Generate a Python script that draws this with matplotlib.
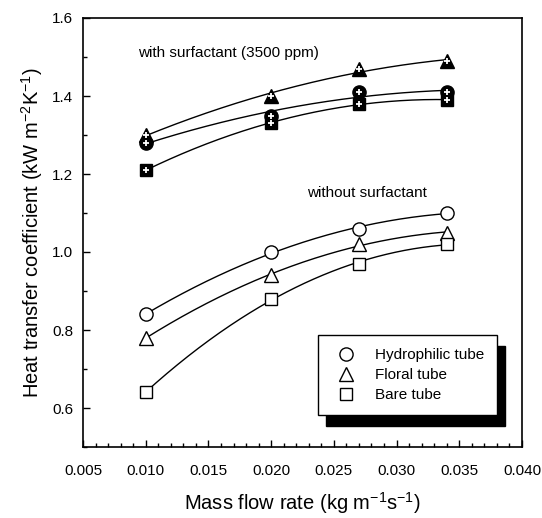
import numpy as np
import matplotlib
matplotlib.use("Agg")
import matplotlib.pyplot as plt
from matplotlib.ticker import MultipleLocator, FormatStrFormatter
from matplotlib.lines import Line2D

plt.rcParams['font.family'] = ['Liberation Sans', 'DejaVu Sans']
plt.rcParams['mathtext.fontset'] = 'custom'
plt.rcParams['mathtext.rm'] = 'Liberation Sans'

flow = [0.010, 0.020, 0.027, 0.034]
# without surfactant
hydro_wo = [0.84, 1.00, 1.06, 1.10]
floral_wo = [0.78, 0.94, 1.02, 1.05]
bare_wo = [0.64, 0.88, 0.97, 1.02]
# with surfactant (3500 ppm)
hydro_w = [1.28, 1.35, 1.41, 1.41]
floral_w = [1.30, 1.40, 1.47, 1.49]
bare_w = [1.21, 1.33, 1.38, 1.39]

fig = plt.figure(figsize=(5.42, 5.18), dpi=100)
ax = fig.add_axes([83/542, 1-447/518, (522-83)/542, (447-18)/518])

xf = np.linspace(min(flow), max(flow), 200)
ms = {'o': 9.5, '^': 9.5, 's': 8.5}

def fit(y):
    c = np.polyfit(flow, y, 2)
    return np.polyval(c, xf)

for y, m in [(hydro_wo, 'o'), (floral_wo, '^'), (bare_wo, 's')]:
    ax.plot(xf, fit(y), color='black', lw=1.0, zorder=2)
    ax.plot(flow, y, linestyle='none', marker=m, ms=ms[m], mfc='white', mec='black', mew=1.0, zorder=3)

for y, m in [(hydro_w, 'o'), (floral_w, '^'), (bare_w, 's')]:
    ax.plot(xf, fit(y), color='black', lw=1.0, zorder=2)
    ax.plot(flow, y, linestyle='none', marker=m, ms=ms[m], mfc='black', mec='black', mew=1.0, zorder=3)
    ax.plot(flow, y, linestyle='none', marker='+', ms=4.5, mec='white', mew=1.3, zorder=4)

ax.set_xlim(0.005, 0.040)
ax.set_ylim(0.5, 1.6)
ax.xaxis.set_major_locator(MultipleLocator(0.005))
ax.xaxis.set_minor_locator(MultipleLocator(0.001))
ax.yaxis.set_major_locator(MultipleLocator(0.2))
ax.yaxis.set_minor_locator(MultipleLocator(0.1))
ax.xaxis.set_major_formatter(FormatStrFormatter('%.3f'))
ax.yaxis.set_major_formatter(FormatStrFormatter('%.1f'))
ax.tick_params(which='both', direction='in', labelsize=11)
ax.tick_params(which='major', length=5, width=1)
ax.tick_params(which='minor', length=3, width=1)
ax.tick_params(axis='x', pad=12)
ax.tick_params(axis='y', pad=7)
ax.yaxis.get_major_ticks()[0].label1.set_visible(False)
for s in ax.spines.values():
    s.set_linewidth(1.2)

ax.set_xlabel(r'Mass flow rate (kg m$^{-1}$s$^{-1}$)', fontsize=14.5, labelpad=9)
ax.set_ylabel(r'Heat transfer coefficient (kW m$^{-2}$K$^{-1}$)', fontsize=14.5, labelpad=5)

ax.text(0.00935, 1.51, 'with surfactant (3500 ppm)', fontsize=11, va='center', ha='left')
ax.text(0.02286, 1.151, 'without surfactant', fontsize=11, va='center', ha='left')

handles = [Line2D([], [], ls='none', marker=m, ms=ms[m], mfc='white', mec='black', mew=1.0)
           for m in ['o', '^', 's']]
leg = ax.legend(handles, ['Hydrophilic tube', 'Floral tube', 'Bare tube'],
                loc='upper left', bbox_to_anchor=((318-83)/439, 1-(335-18)/429),
                fontsize=11, frameon=True, fancybox=False, edgecolor='black',
                borderpad=0.85, labelspacing=0.4, handletextpad=0.85, borderaxespad=0,
                handlelength=2.0,
                shadow={'ox': 6, 'oy': -8, 'color': 'black', 'alpha': 1.0})
leg.get_frame().set_linewidth(1.0)

fig.savefig('out.png', dpi=100)
